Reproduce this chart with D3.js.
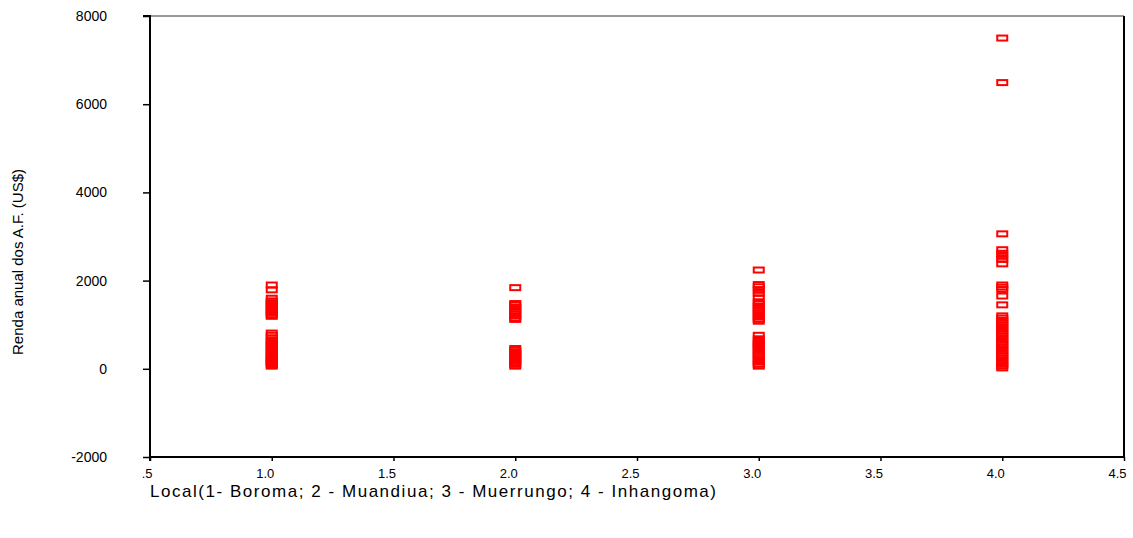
<!DOCTYPE html>
<html>
<head>
<meta charset="utf-8">
<script src="https://cdn.jsdelivr.net/npm/d3@7"></script>
<style>
  html, body { margin: 0; padding: 0; background: #fff; }
  svg { display: block; font-family: Arial, "Liberation Sans", sans-serif; }
</style>
</head>
<body>
<svg id="chart"></svg>
<script>
// locations on the x axis (1- Boroma; 2 - Muandiua; 3 - Muerrungo; 4 - Inhangoma)
const locals = [1, 2, 3, 4];

// annual income per household (US$)
const boroma = [1900, 1790, 1600, 1540, 1500, 1460, 1420, 1380, 1340, 1300, 1260, 1220, 1190,
  810, 760, 700, 640, 600, 560, 520, 480, 440, 400, 360, 320, 280, 250, 220, 180, 150, 120, 90, 60];
const muandiua = [1840, 1480, 1450, 1400, 1350, 1300, 1250, 1200, 1150, 1120,
  460, 420, 380, 340, 300, 260, 220, 180, 140, 100, 60];
const muerrungo = [2240, 1910, 1860, 1780, 1710, 1610, 1520, 1470, 1420, 1370, 1320, 1270, 1220, 1170, 1120, 1080,
  760, 680, 620, 580, 540, 500, 450, 400, 350, 300, 250, 200, 150, 100, 60];
const inhangoma = [7500, 6490, 3060, 2700, 2620, 2550, 2480, 2380, 1900, 1850, 1800, 1650, 1450,
  1200, 1150, 1100, 1050, 1000, 950, 900, 850, 800, 750, 700, 650, 600, 550, 500, 450, 400, 350,
  300, 250, 200, 150, 100, 60, 20];

const xTicks = [0.5, 1.0, 1.5, 2.0, 2.5, 3.0, 3.5, 4.0, 4.5];
const xTickLabels = ['.5', '1.0', '1.5', '2.0', '2.5', '3.0', '3.5', '4.0', '4.5'];
const yTicks = [-2000, 0, 2000, 4000, 6000, 8000];

const xTitle = 'Local(1- Boroma; 2 - Muandiua; 3 - Muerrungo; 4 - Inhangoma)';
const yTitle = 'Renda anual dos A.F. (US$)';

const width = 1133;
const height = 538;
const plotLeft = 150, plotRight = 1124, plotTop = 16, plotBottom = 457;

const svg = d3.select('#chart').attr('width', width).attr('height', height);

const x = d3.scaleLinear().domain([0.5, 4.5]).range([plotLeft, plotRight]);
const y = d3.scaleLinear().domain([-2000, 8000]).range([plotBottom, plotTop]);

// frame
svg.append('line')
  .attr('x1', plotLeft).attr('x2', plotRight).attr('y1', plotTop).attr('y2', plotTop)
  .attr('stroke', '#333').attr('stroke-width', 1);
svg.append('line')
  .attr('x1', plotRight).attr('x2', plotRight).attr('y1', plotTop).attr('y2', plotBottom)
  .attr('stroke', '#000').attr('stroke-width', 2);

const yAxis = d3.axisLeft(y).tickValues(yTicks).tickSize(7).tickPadding(36).tickFormat(d => d);
const yG = svg.append('g').attr('transform', `translate(${plotLeft},0)`).call(yAxis);
yG.select('.domain').attr('stroke-width', 2).attr('d', `M-7,${plotTop}H0V${plotBottom}`);
yG.selectAll('.tick line').attr('stroke-width', 1.5);
yG.selectAll('text').style('font-size', '14px').attr('fill', '#000')
  .attr('font-family', 'Arial, "Liberation Sans", sans-serif');

const xAxis = d3.axisBottom(x).tickValues(xTicks).tickSize(4).tickPadding(8)
  .tickFormat((d, i) => xTickLabels[i]);
const xG = svg.append('g').attr('transform', `translate(0,${plotBottom})`).call(xAxis);
xG.select('.domain').attr('stroke-width', 2).attr('d', `M${plotLeft},4V0H${plotRight}`);
xG.selectAll('.tick line').attr('stroke-width', 1.5);
xG.selectAll('text').style('font-size', '13px').attr('fill', '#000')
  .attr('text-anchor', 'end').attr('dx', 2)
  .attr('font-family', 'Arial, "Liberation Sans", sans-serif');

// points
const groups = [boroma, muandiua, muerrungo, inhangoma];
const points = [];
groups.forEach((vals, i) => vals.forEach(v => points.push({ local: locals[i], value: v })));

svg.append('g').selectAll('rect')
  .data(points)
  .join('rect')
  .attr('x', d => x(d.local) - 5)
  .attr('y', d => y(d.value) - 2.5)
  .attr('width', 10)
  .attr('height', 5)
  .attr('fill', 'none')
  .attr('stroke', '#ff0000')
  .attr('stroke-width', 2);

// titles
svg.append('text')
  .attr('x', plotLeft)
  .attr('y', 497)
  .attr('font-size', 17)
  .attr('textLength', 566)
  .attr('lengthAdjust', 'spacing')
  .attr('fill', '#000')
  .text(xTitle);

svg.append('text')
  .attr('transform', `translate(23,262) rotate(-90)`)
  .attr('text-anchor', 'middle')
  .attr('font-size', 15)
  .attr('fill', '#000')
  .text(yTitle);
</script>
</body>
</html>
